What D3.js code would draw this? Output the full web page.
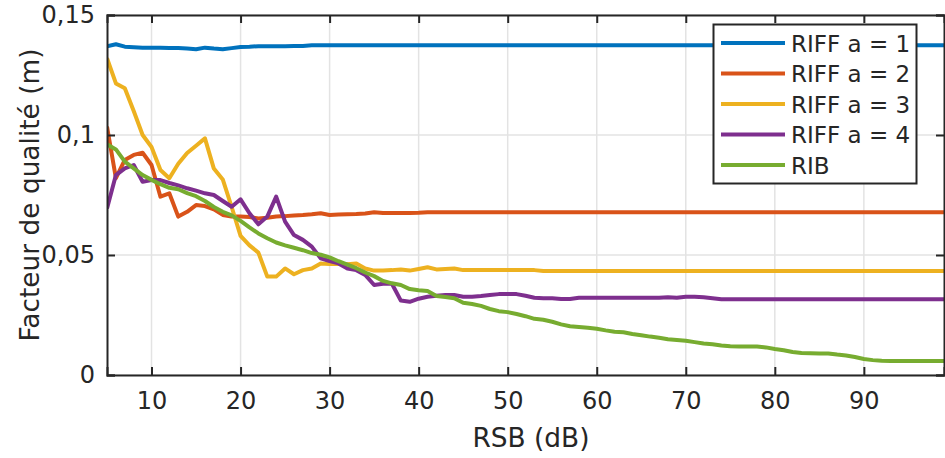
<!DOCTYPE html>
<html><head><meta charset="utf-8">
<script src="https://cdn.jsdelivr.net/npm/d3@7"></script>
<style>body{margin:0;background:#fff}svg{display:block}text{font-family:"DejaVu Sans",sans-serif;fill:#262626}</style>
</head><body>
<svg id="c" width="945" height="458"></svg>
<script>
const rsb = d3.range(5, 100); // 5..99 dB
const seriesNames = ["RIFF a = 1","RIFF a = 2","RIFF a = 3","RIFF a = 4","RIB"];
const colors = ["#0072BD","#D95319","#EDB120","#7E2F8E","#77AC30"];
const xTicks = [10,20,30,40,50,60,70,80,90];
const yTicks = [0,0.05,0.1,0.15];
const yTickLabels = ["0","0,05","0,1","0,15"];

function fill(arr, n, v){ while(arr.length < n) arr.push(v); return arr; }
const N = rsb.length;
const riff1 = fill([0.137,0.1378,0.1368,0.1366,0.1364,0.1364,0.1364,0.1363,0.1362,0.136,0.1357,0.1364,0.136,0.1357,0.1362,0.1367,0.1368,0.137,0.137,0.137,0.137,0.1371,0.1371,0.1374], N, 0.1374);
const riff2 = fill([0.1035,0.082,0.0896,0.0917,0.0926,0.0875,0.0743,0.0757,0.066,0.068,0.0708,0.0704,0.069,0.0667,0.066,0.066,0.0658,0.0652,0.0655,0.066,0.0662,0.0665,0.0667,0.067,0.0674,0.0667,0.0669,0.067,0.0671,0.0673,0.0678,0.0675,0.0675,0.0675,0.0675,0.0676,0.0678], N, 0.0678);
const riff3 = fill([0.132,0.1215,0.1195,0.110,0.100,0.095,0.0854,0.082,0.088,0.0925,0.0955,0.0986,0.086,0.0815,0.070,0.058,0.054,0.051,0.041,0.041,0.0444,0.042,0.0437,0.0444,0.0465,0.0462,0.0462,0.0462,0.0465,0.0444,0.0435,0.0435,0.0437,0.044,0.0435,0.0442,0.0449,0.044,0.0442,0.0444,0.0437,0.0437,0.0437,0.0437,0.0437,0.0437,0.0437,0.0437,0.0437], N, 0.0433);
const riff4 = fill([0.0694,0.0833,0.0861,0.0875,0.0805,0.0812,0.0812,0.080,0.079,0.0778,0.0768,0.0757,0.075,0.0725,0.0701,0.0732,0.0674,0.0628,0.066,0.0743,0.0639,0.0583,0.0563,0.0535,0.0486,0.0475,0.0465,0.0444,0.0437,0.0417,0.0375,0.038,0.038,0.031,0.0305,0.0318,0.0326,0.033,0.0333,0.0333,0.0326,0.0326,0.0329,0.0333,0.0337,0.0337,0.0337,0.033,0.0322,0.032,0.032,0.0317,0.0317,0.0322,0.0322,0.0322,0.0322,0.0322,0.0322,0.0322,0.0322,0.0322,0.0322,0.0324,0.0322,0.0326,0.0326,0.0324,0.032,0.0316], N, 0.0316);
const rib = fill([0.0961,0.094,0.0889,0.0861,0.0833,0.0813,0.0795,0.078,0.0774,0.0758,0.0745,0.0725,0.070,0.068,0.0665,0.0642,0.0615,0.059,0.057,0.0552,0.054,0.053,0.052,0.0508,0.0501,0.049,0.0474,0.046,0.0445,0.0427,0.0412,0.0392,0.0382,0.0375,0.0358,0.0353,0.035,0.0329,0.0325,0.032,0.0301,0.0296,0.0288,0.0275,0.0266,0.0262,0.0254,0.0245,0.0234,0.023,0.0222,0.0211,0.0203,0.020,0.0197,0.0193,0.0186,0.018,0.0178,0.0171,0.0166,0.016,0.0155,0.0149,0.0146,0.0143,0.0137,0.0131,0.0128,0.0123,0.012,0.0119,0.0119,0.0119,0.0115,0.0108,0.0103,0.0096,0.0092,0.0091,0.009,0.009,0.0085,0.0081,0.0075,0.0067,0.0062,0.0059], N, 0.0058);
const allSeries = [riff1, riff2, riff3, riff4, rib];

const L = 107, R = 944, T = 15, B = 375;
const svg = d3.select("#c");
const x = d3.scaleLinear().domain([5, 99]).range([L, R]);
const y = d3.scaleLinear().domain([0, 0.15]).range([B, T]);

// grid
const g = svg.append("g");
g.selectAll(".gx").data(xTicks).enter().append("line")
  .attr("x1", d => x(d)).attr("x2", d => x(d)).attr("y1", T).attr("y2", B)
  .attr("stroke", "#e3e3e3").attr("stroke-width", 1.5);
g.selectAll(".gy").data(yTicks).enter().append("line")
  .attr("y1", d => y(d)).attr("y2", d => y(d)).attr("x1", L).attr("x2", R)
  .attr("stroke", "#e3e3e3").attr("stroke-width", 1.5);

// clip
svg.append("clipPath").attr("id","clp").append("rect").attr("x",L).attr("y",T).attr("width",R-L).attr("height",B-T);

const line = d3.line().x((d,i) => x(rsb[i])).y(d => y(d));
svg.append("g").attr("clip-path","url(#clp)").selectAll("path").data(allSeries).enter().append("path")
  .attr("d", line).attr("fill","none").attr("stroke",(d,i)=>colors[i])
  .attr("stroke-width",4).attr("stroke-linejoin","round");

// axes
const ax = svg.append("g").attr("transform", `translate(0,${B})`)
  .call(d3.axisBottom(x).tickValues(xTicks).tickSize(-8).tickPadding(17).tickFormat(d3.format("d")));
const axT = svg.append("g").attr("transform", `translate(0,${T})`)
  .call(d3.axisTop(x).tickValues(xTicks).tickSize(-8).tickFormat(""));
const ay = svg.append("g").attr("transform", `translate(${L},0)`)
  .call(d3.axisLeft(y).tickValues(yTicks).tickSize(-8).tickPadding(12).tickFormat((d,i)=>yTickLabels[i]));
const ayR = svg.append("g").attr("transform", `translate(${R},0)`)
  .call(d3.axisRight(y).tickValues(yTicks).tickSize(-8).tickFormat(""));
[ax,axT,ay,ayR].forEach(a => {
  a.selectAll(".domain").attr("stroke","#262626").attr("stroke-width",2);
  a.selectAll(".tick line").attr("stroke","#262626").attr("stroke-width",2);
  a.selectAll("text").style("font-size","24px").attr("fill","#262626").style("font-family","'DejaVu Sans',sans-serif");
});

svg.append("text").attr("x", 531).attr("y", 447).attr("text-anchor","middle")
  .style("font-size","26.4px").text("RSB (dB)");
svg.append("text").attr("transform", `translate(39,${(T+B)/2}) rotate(-90)`).attr("text-anchor","middle")
  .style("font-size","26.4px").text("Facteur de qualité (m)");

// legend
const lg = svg.append("g");
lg.append("rect").attr("x",713.5).attr("y",24.5).attr("width",203).attr("height",159)
  .attr("fill","#fff").attr("stroke","#262626").attr("stroke-width",2);
seriesNames.forEach((n,i) => {
  const yy = 43 + i*30.5;
  lg.append("line").attr("x1",721).attr("x2",785).attr("y1",yy).attr("y2",yy)
    .attr("stroke",colors[i]).attr("stroke-width",4);
  lg.append("text").attr("x",791).attr("y",yy+8.5).style("font-size","23px").text(n);
});
</script>
</body></html>
